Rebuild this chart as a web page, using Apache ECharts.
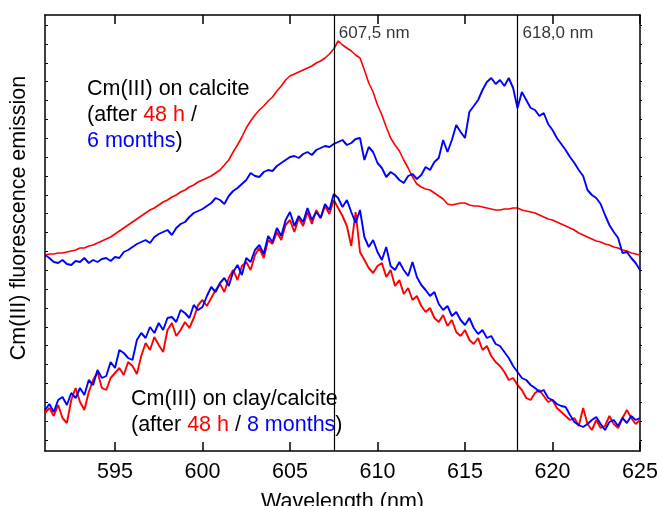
<!DOCTYPE html>
<html>
<head>
<meta charset="utf-8">
<script src="https://cdn.jsdelivr.net/npm/echarts@6/dist/echarts.min.js"></script>
<style>
  html, body { margin: 0; padding: 0; background: #fff; overflow: hidden; }
  #chart { width: 657px; height: 506px; }
</style>
</head>
<body>
<div id="chart"></div>
<script>
// Emission spectra sampled every 0.25 nm from 591 nm to 625 nm (arbitrary intensity units)
const wlStart = 591;
const wlStep = 0.25;

// Cm(III) on calcite, after 48 h
const calcite48h = [
  196,197,197,198,198,199,200,201,203,203,
  205,206,208,210,212,214,217,220,223,226,
  229,232,235,238,241,243,246,249,251,254,
  256,259,261,264,266,269,271,273,275,278,
  281,286,291,299,306,314,323,330,336,341,
  345,350,354,360,365,371,375,377,379,381,
  383,385,388,390,393,397,402,410,406,403,
  400,396,393,381,368,359,346,336,324,313,
  306,300,291,283,274,267,264,262,261,258,
  255,252,247,246,247,248,248,246,245,245,
  244,243,242,241,241,242,242,243,243,241,
  240,239,238,236,234,232,231,229,227,225,
  223,221,218,216,214,212,210,209,207,206,
  204,203,201,200,198,197,196
];

// Cm(III) on calcite, after 6 months
const calcite6m = [
  196,193,189,188,191,187,186,190,189,193,
  188,191,189,192,193,190,194,193,199,201,
  204,207,209,211,208,214,217,219,221,216,
  223,227,229,234,238,240,242,245,248,253,
  251,247,255,260,263,267,271,278,275,274,
  279,281,280,285,288,291,294,295,293,297,
  299,296,301,303,305,304,307,309,311,306,
  308,312,313,291,304,299,288,283,274,279,
  276,271,268,275,277,272,276,284,281,289,
  293,311,299,311,326,319,313,339,345,351,
  361,369,373,367,371,365,373,363,343,359,
  351,343,341,335,338,327,321,313,307,301,
  294,288,281,275,261,256,253,247,236,226,
  219,213,198,199,193,188,181
];

// Cm(III) on clay/calcite, after 48 h
const clay48h = [
  38,43,35,46,33,28,51,63,49,41,
  59,71,79,63,61,73,78,83,76,89,
  85,77,95,108,101,114,106,99,121,128,
  115,121,129,123,133,146,151,145,153,161,
  167,159,173,181,171,185,189,181,196,203,
  193,211,207,219,211,226,231,219,233,225,
  239,227,241,233,245,237,251,243,235,225,
  205,239,199,191,183,178,185,188,174,181,
  165,171,157,163,151,155,145,139,143,133,
  129,136,125,131,119,115,121,111,107,113,
  101,105,95,89,85,79,71,73,66,61,
  53,51,58,61,55,49,51,43,39,35,
  31,33,25,43,27,21,31,23,25,35,
  27,23,33,41,33,27,31
];

// Cm(III) on clay/calcite, after 8 months
const clay8m = [
  41,47,39,51,54,46,58,53,63,56,
  71,66,81,73,75,89,83,101,98,93,
  91,111,118,113,124,118,128,121,133,134,
  129,141,138,133,146,141,144,155,164,159,
  168,173,165,179,186,176,193,189,201,206,
  197,215,209,223,215,231,239,225,235,229,
  243,231,239,233,247,241,257,253,244,251,
  239,228,241,214,204,211,199,191,204,185,
  181,189,181,175,189,174,166,161,155,159,
  147,141,145,135,139,131,126,133,123,117,
  121,113,115,107,105,99,93,85,79,73,
  71,66,63,59,61,53,51,47,45,44,
  36,29,26,24,27,31,34,27,21,29,
  31,25,33,28,35,31,33
];

// Axis ticks and reference wavelengths
const xTicks = [595, 600, 605, 610, 615, 620, 625];
const markerWavelengths = [607.5, 618.0];
const markerLabels = ['607,5 nm', '618,0 nm'];

const X_MIN = 591, X_MAX = 625;
const Y_MIN = 0, Y_MAX = 436;
// unlabelled intensity ticks, evenly spaced
const yTicks = [];
for (let k = 0; k < 23; k++) yTicks.push(11 + k * 18.86);

const wavelengths = calcite48h.map((_, i) => wlStart + i * wlStep);
const pairs = arr => arr.map((v, i) => [wavelengths[i], v]);

const FONT = '"Liberation Sans", Arial, Helvetica, sans-serif';
const RED = '#ff0000', BLUE = '#0000ff';

const chart = echarts.init(document.getElementById('chart'), null, { renderer: 'canvas' });

const lineSeries = (name, data, color, width) => ({
  name, type: 'line', data, showSymbol: false, symbol: 'none',
  lineStyle: { color, width }, itemStyle: { color },
  animation: false, silent: true, z: 3
});

const baseX = {
  type: 'value', min: X_MIN, max: X_MAX,
  splitLine: { show: false },
  axisLine: { show: true, onZero: false, lineStyle: { color: '#000', width: 1.5 } }
};
const baseY = {
  type: 'value', min: Y_MIN, max: Y_MAX,
  splitLine: { show: false },
  axisLabel: { show: false },
  axisLine: { show: true, onZero: false, lineStyle: { color: '#000', width: 1.5 } }
};

const rich = {
  k: { fill: '#000', color: '#000', fontSize: 21.5, fontFamily: FONT, lineHeight: 26 },
  r: { fill: RED, color: RED, fontSize: 21.5, fontFamily: FONT, lineHeight: 26 },
  b: { fill: BLUE, color: BLUE, fontSize: 21.5, fontFamily: FONT, lineHeight: 26 }
};

chart.setOption({
  animation: false,
  backgroundColor: '#fff',
  grid: { left: 45, top: 15, right: 17, bottom: 55, containLabel: false, outerBoundsMode: 'none' },
  xAxis: [
    Object.assign({}, baseX, {
      position: 'bottom',
      name: 'Wavelength (nm)', nameLocation: 'middle', nameGap: 40,
      nameTextStyle: { color: '#000', fontSize: 21.5, fontFamily: FONT },
      axisTick: { show: true, inside: true, length: 9, customValues: xTicks,
                  lineStyle: { color: '#000', width: 1.5 } },
      axisLabel: { show: true, customValues: xTicks, margin: 10,
                   color: '#000', fontSize: 21.5, fontFamily: FONT }
    }),
    Object.assign({}, baseX, {
      position: 'top',
      axisTick: { show: true, inside: true, length: 9, customValues: xTicks,
                  lineStyle: { color: '#000', width: 1.5 } },
      axisLabel: { show: false }
    })
  ],
  yAxis: [
    Object.assign({}, baseY, {
      position: 'left',
      axisTick: { show: true, inside: true, length: 3, customValues: yTicks,
                  lineStyle: { color: '#000', width: 1 } }
    }),
    Object.assign({}, baseY, {
      position: 'right',
      axisTick: { show: true, inside: false, length: 2, customValues: yTicks,
                  lineStyle: { color: '#000', width: 1 } }
    })
  ],
  series: [
    lineSeries('calcite 48 h', pairs(calcite48h), RED, 1.6),
    lineSeries('calcite 6 months', pairs(calcite6m), BLUE, 1.9),
    lineSeries('clay/calcite 48 h', pairs(clay48h), RED, 1.9),
    lineSeries('clay/calcite 8 months', pairs(clay8m), BLUE, 1.9),
    {
      // reference wavelengths with their labels
      name: 'markers', type: 'scatter', symbolSize: 0, silent: true, z: 4,
      data: markerWavelengths.map((w, i) => ({ value: [w, Y_MAX - 18], label: { formatter: markerLabels[i] } })),
      label: { show: true, position: 'right', distance: 5, color: '#000',
               fontSize: 17, fontFamily: FONT },
      markLine: {
        silent: true, symbol: 'none', animation: false,
        label: { show: false },
        lineStyle: { color: '#000', width: 1.2, type: 'solid' },
        data: markerWavelengths.map(w => ({ xAxis: w }))
      }
    }
  ],
  graphic: [
    {
      type: 'text', left: 87, top: 76, z: 10,
      style: {
        text: '{k|Cm(III) on calcite}\n{k|(after }{r|48 h}{k| /}\n{b|6 months}{k|)}',
        rich, fontSize: 21.5, fontFamily: FONT, lineHeight: 26
      }
    },
    {
      type: 'text', left: 131, top: 386, z: 10,
      style: {
        text: '{k|Cm(III) on clay/calcite}\n{k|(after }{r|48 h}{k| / }{b|8 months}{k|)}',
        rich, fontSize: 21.5, fontFamily: FONT, lineHeight: 25
      }
    },
    {
      type: 'text', x: 19, y: 218, rotation: Math.PI / 2, z: 10,
      style: {
        text: 'Cm(III) fluorescence emission', fill: '#000',
        fontSize: 21.5, fontFamily: FONT, align: 'center', verticalAlign: 'middle'
      }
    }
  ]
});
</script>
</body>
</html>
